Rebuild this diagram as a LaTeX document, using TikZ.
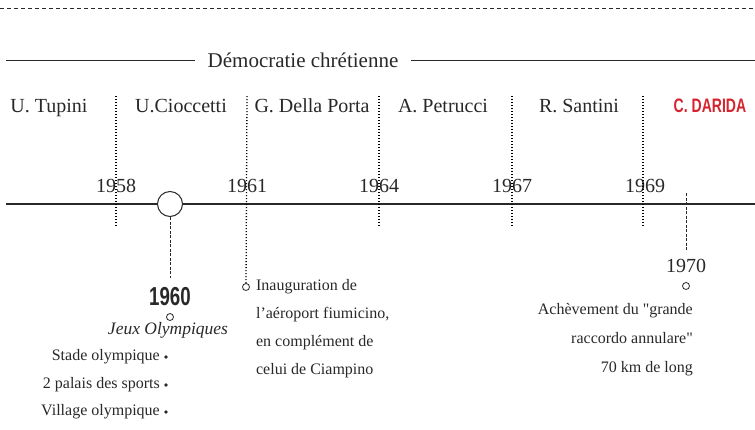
\documentclass[tikz,border=0pt]{standalone}
\usepackage{fontspec}
\setmainfont{Liberation Serif}
\newfontfamily\condfont[FakeStretch=0.72]{Liberation Sans}
\newfontfamily\rawserif[Ligatures=TeXOff]{Liberation Serif}
\newcommand{\straightq}{{\rawserif"}}
\usetikzlibrary{positioning}
\definecolor{inkgray}{RGB}{40,40,40}
\definecolor{daridared}{RGB}{214,36,46}

\begin{document}
\begin{tikzpicture}[
  x=1pt, y=-1pt,
  node distance=13pt and 4pt,
  mayor/.style={font=\fontsize{20}{24}\selectfont, text=inkgray, anchor=base, inner sep=0pt},
  year/.style={font=\fontsize{20}{24}\selectfont, text=inkgray, anchor=base, inner sep=0pt},
  note/.style={font=\fontsize{16}{19}\selectfont, text=inkgray, inner sep=0pt, text height=11pt, text depth=3.5pt},
  bigyear/.style={font=\condfont\bfseries\fontsize{26}{30}\selectfont, text=inkgray, inner sep=0pt},
  ring/.style={draw=inkgray, circle, fill=white, inner sep=0pt, minimum size=7pt, line width=0.8pt},
  bullet/.style={fill=inkgray, circle, inner sep=0pt, minimum size=3.6pt},
  dotline/.style={draw=black, line width=1.3pt, dash pattern=on 1.2pt off 1.8pt},
  dashline/.style={draw=inkgray, line width=0.8pt, dash pattern=on 3pt off 1.5pt}
]
\useasboundingbox (0,0) rectangle (755,429);

% header
\draw[inkgray, line width=0.8pt, dash pattern=on 4pt off 3pt] (0,8) -- (755,8);
\node[font=\fontsize{21}{24}\selectfont, text=inkgray, inner xsep=12pt] (dc) at (303,60) {Démocratie chrétienne};
\coordinate (pl) at (6,60);
\coordinate (pr) at (755,60);
\draw[inkgray, line width=1pt] (pl) -- (dc) -- (pr);

% mayors
\node[mayor] (tup) at (49,112) {U. Tupini};
\node[mayor] (cio) at (181,112) {U.Cioccetti};
\node[mayor] (dpo) at (312,112) {G. Della Porta};
\node[mayor] (pet) at (443,112) {A. Petrucci};
\node[mayor] (san) at (579,112) {R. Santini};
\node[font=\condfont\bfseries\fontsize{19.5}{24}\selectfont, text=daridared, anchor=base, inner sep=0pt] (dar) at (710,112) {C. DARIDA};

% years
\node[year] (y58) at (116,192) {1958};
\node[year] (y61) at (247,192) {1961};
\node[year] (y64) at (379,192) {1964};
\node[year] (y67) at (512,192) {1967};
\node[year] (y69) at (645,192) {1969};

% timeline
\coordinate (tl) at (6,204);
\coordinate (tr) at (755,204);
\draw[inkgray, line width=1.2pt] (tl) -- (tr);
\node[draw=inkgray, circle, fill=white, line width=1pt, minimum size=25pt, inner sep=0pt] (c60) at (170,204) {};

% dividers
\coordinate (t58) at (116,96);  \coordinate (b58) at (116,226);
\coordinate (t61) at (247,96);
\coordinate (t64) at (379,96);  \coordinate (b64) at (379,226);
\coordinate (t67) at (512,96);  \coordinate (b67) at (512,226);
\coordinate (t69) at (643,96);  \coordinate (b69) at (643,226);
\node[ring] (o61) at (246,287) {};
\path[dotline]
(t58) edge (b58)
(t61) edge (o61)
(t64) edge (b64)
(t67) edge (b67)
(t69) edge (b69);

% 1960
\coordinate (d60) at (170,278);
\draw[dashline] (c60) -- (d60);
\node[bigyear] (n60) at (170,297) {1960};
\node[ring] (o60) at (170,317) {};
\node[font=\itshape\fontsize{17.5}{20}\selectfont, text=inkgray, inner sep=0pt] (jo) at (168,330) {Jeux Olympiques};
\node[bullet] (b1) at (166,357) {};
\node[bullet] (b2) at (166,385) {};
\node[bullet] (b3) at (166,412) {};
\node[note, left=of b1] (i1) {Stade olympique};
\node[note, left=of b2] (i2) {2 palais des sports};
\node[note, left=of b3] (i3) {Village olympique};

% 1961
\node[note, right=6pt of o61] (f1) {Inauguration de};
\node[note, below=of f1.south west, anchor=north west] (f2) {l’aéroport fiumicino,};
\node[note, below=of f2.south west, anchor=north west] (f3) {en complément de};
\node[note, below=of f3.south west, anchor=north west] (f4) {celui de Ciampino};

% 1970
\coordinate (t70) at (686,193);
\coordinate (d70) at (686,250);
\draw[dashline] (t70) -- (d70);
\node[year] (y70) at (686,272) {1970};
\node[ring] (o70) at (686,286) {};
\node[note, anchor=east] (g1) at (693,311) {Achèvement du \straightq grande};
\node[note, below=14pt of g1.south east, anchor=north east] (g2) {raccordo annulare\straightq};
\node[note, below=14pt of g2.south east, anchor=north east] (g3) {70 km de long};

\end{tikzpicture}
\end{document}
